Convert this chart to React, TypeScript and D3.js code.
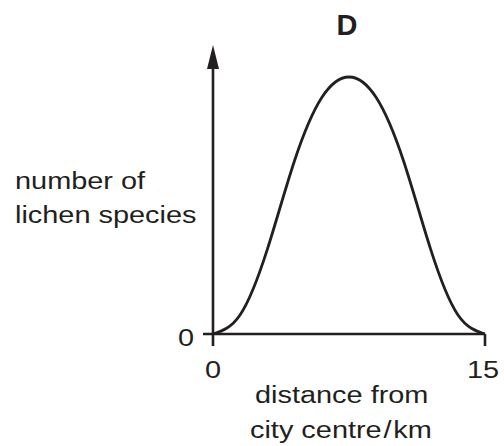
import React, { useEffect, useRef } from 'react';
import * as d3 from 'd3';

// distance from city centre (km) and number of lichen species (relative)
const distance = [0, 1.5, 3, 4.5, 6, 7.5, 9, 10.5, 12, 13.5, 15];
const species = [0, 0.75, 3.3, 6.75, 9.2, 10, 9.2, 6.75, 3.3, 0.75, 0];
const xTickLabels = ['0', '15'];
const yTickLabels = ['0'];
const yLabel = ['number of', 'lichen species'];
const xLabel = ['distance from', 'city centre/km'];
const title = 'D';

const width = 504;
const height = 446;
const ink = '#231f20';
const font = 'Liberation Sans, Arial, Helvetica, sans-serif';
const stretch = 1.18; // the reference lettering is a wide sans

function App() {
  const svgRef = useRef<SVGSVGElement>(null);

  useEffect(() => {
    const svg = d3.select(svgRef.current);
    svg.selectAll('*').remove();

    const x = d3.scaleLinear().domain([0, 15]).range([213, 485]);
    const y = d3.scaleLinear().domain([0, 10]).range([334, 77]);
    const yTop = 11.25; // arrow tip

    const data = distance.map((d, i) => ({ d, s: species[i] }));

    // axes
    svg.append('line')
      .attr('x1', x(0)).attr('x2', x(0))
      .attr('y1', y(0) + 12).attr('y2', y(yTop) + 20)
      .attr('stroke', ink).attr('stroke-width', 2.6);
    svg.append('path')
      .attr('d', `M${x(0)},${y(yTop)} L${x(0) - 6},${y(yTop) + 24} L${x(0) + 6},${y(yTop) + 24} Z`)
      .attr('fill', ink);
    svg.append('line')
      .attr('x1', x(0) - 10).attr('x2', x(15))
      .attr('y1', y(0)).attr('y2', y(0))
      .attr('stroke', ink).attr('stroke-width', 2.6);
    svg.append('line')
      .attr('x1', x(15)).attr('x2', x(15))
      .attr('y1', y(0)).attr('y2', y(0) + 12)
      .attr('stroke', ink).attr('stroke-width', 2.6);

    // curve
    const line = d3.line<{ d: number; s: number }>()
      .x(p => x(p.d))
      .y(p => y(p.s))
      .curve(d3.curveNatural);
    svg.append('path')
      .datum(data)
      .attr('d', line)
      .attr('fill', 'none')
      .attr('stroke', ink)
      .attr('stroke-width', 2.8);

    const txt = svg.append('g')
      .attr('font-family', font)
      .attr('font-size', 24.5)
      .attr('fill', ink);

    const label = (s: string, tx: number, ty: number, anchor: string) =>
      txt.append('text')
        .attr('transform', `translate(${tx},${ty}) scale(${stretch},1)`)
        .attr('text-anchor', anchor)
        .text(s);

    // tick labels
    xTickLabels.forEach(t => label(t, t === '0' ? x(0) : x(15) - 2, 378, 'middle'));
    yTickLabels.forEach(t => label(t, x(0) - 19, y(+t) + 12, 'end'));

    // axis titles
    yLabel.forEach((s, i) => label(s, 15, 189 + i * 34, 'start'));
    label(xLabel[0], 255, 403, 'start');
    const parts = xLabel[1].split('/');
    const l2 = txt.append('text')
      .attr('transform', `translate(250,438) scale(${stretch},1)`);
    l2.append('tspan').text(parts[0]);
    l2.append('tspan').attr('dx', 1.5).text('/');
    l2.append('tspan').attr('dx', 1.5).text(parts[1]);

    svg.append('text')
      .attr('x', 347).attr('y', 35)
      .attr('text-anchor', 'middle')
      .attr('font-family', font)
      .attr('font-size', 29)
      .attr('font-weight', 'bold')
      .attr('fill', ink)
      .text(title);
  }, []);

  return (
    <svg
      ref={svgRef}
      width={width}
      height={height}
      style={{ position: 'absolute', left: 0, top: 0, background: '#fff' }}
    />
  );
}

export default App;
